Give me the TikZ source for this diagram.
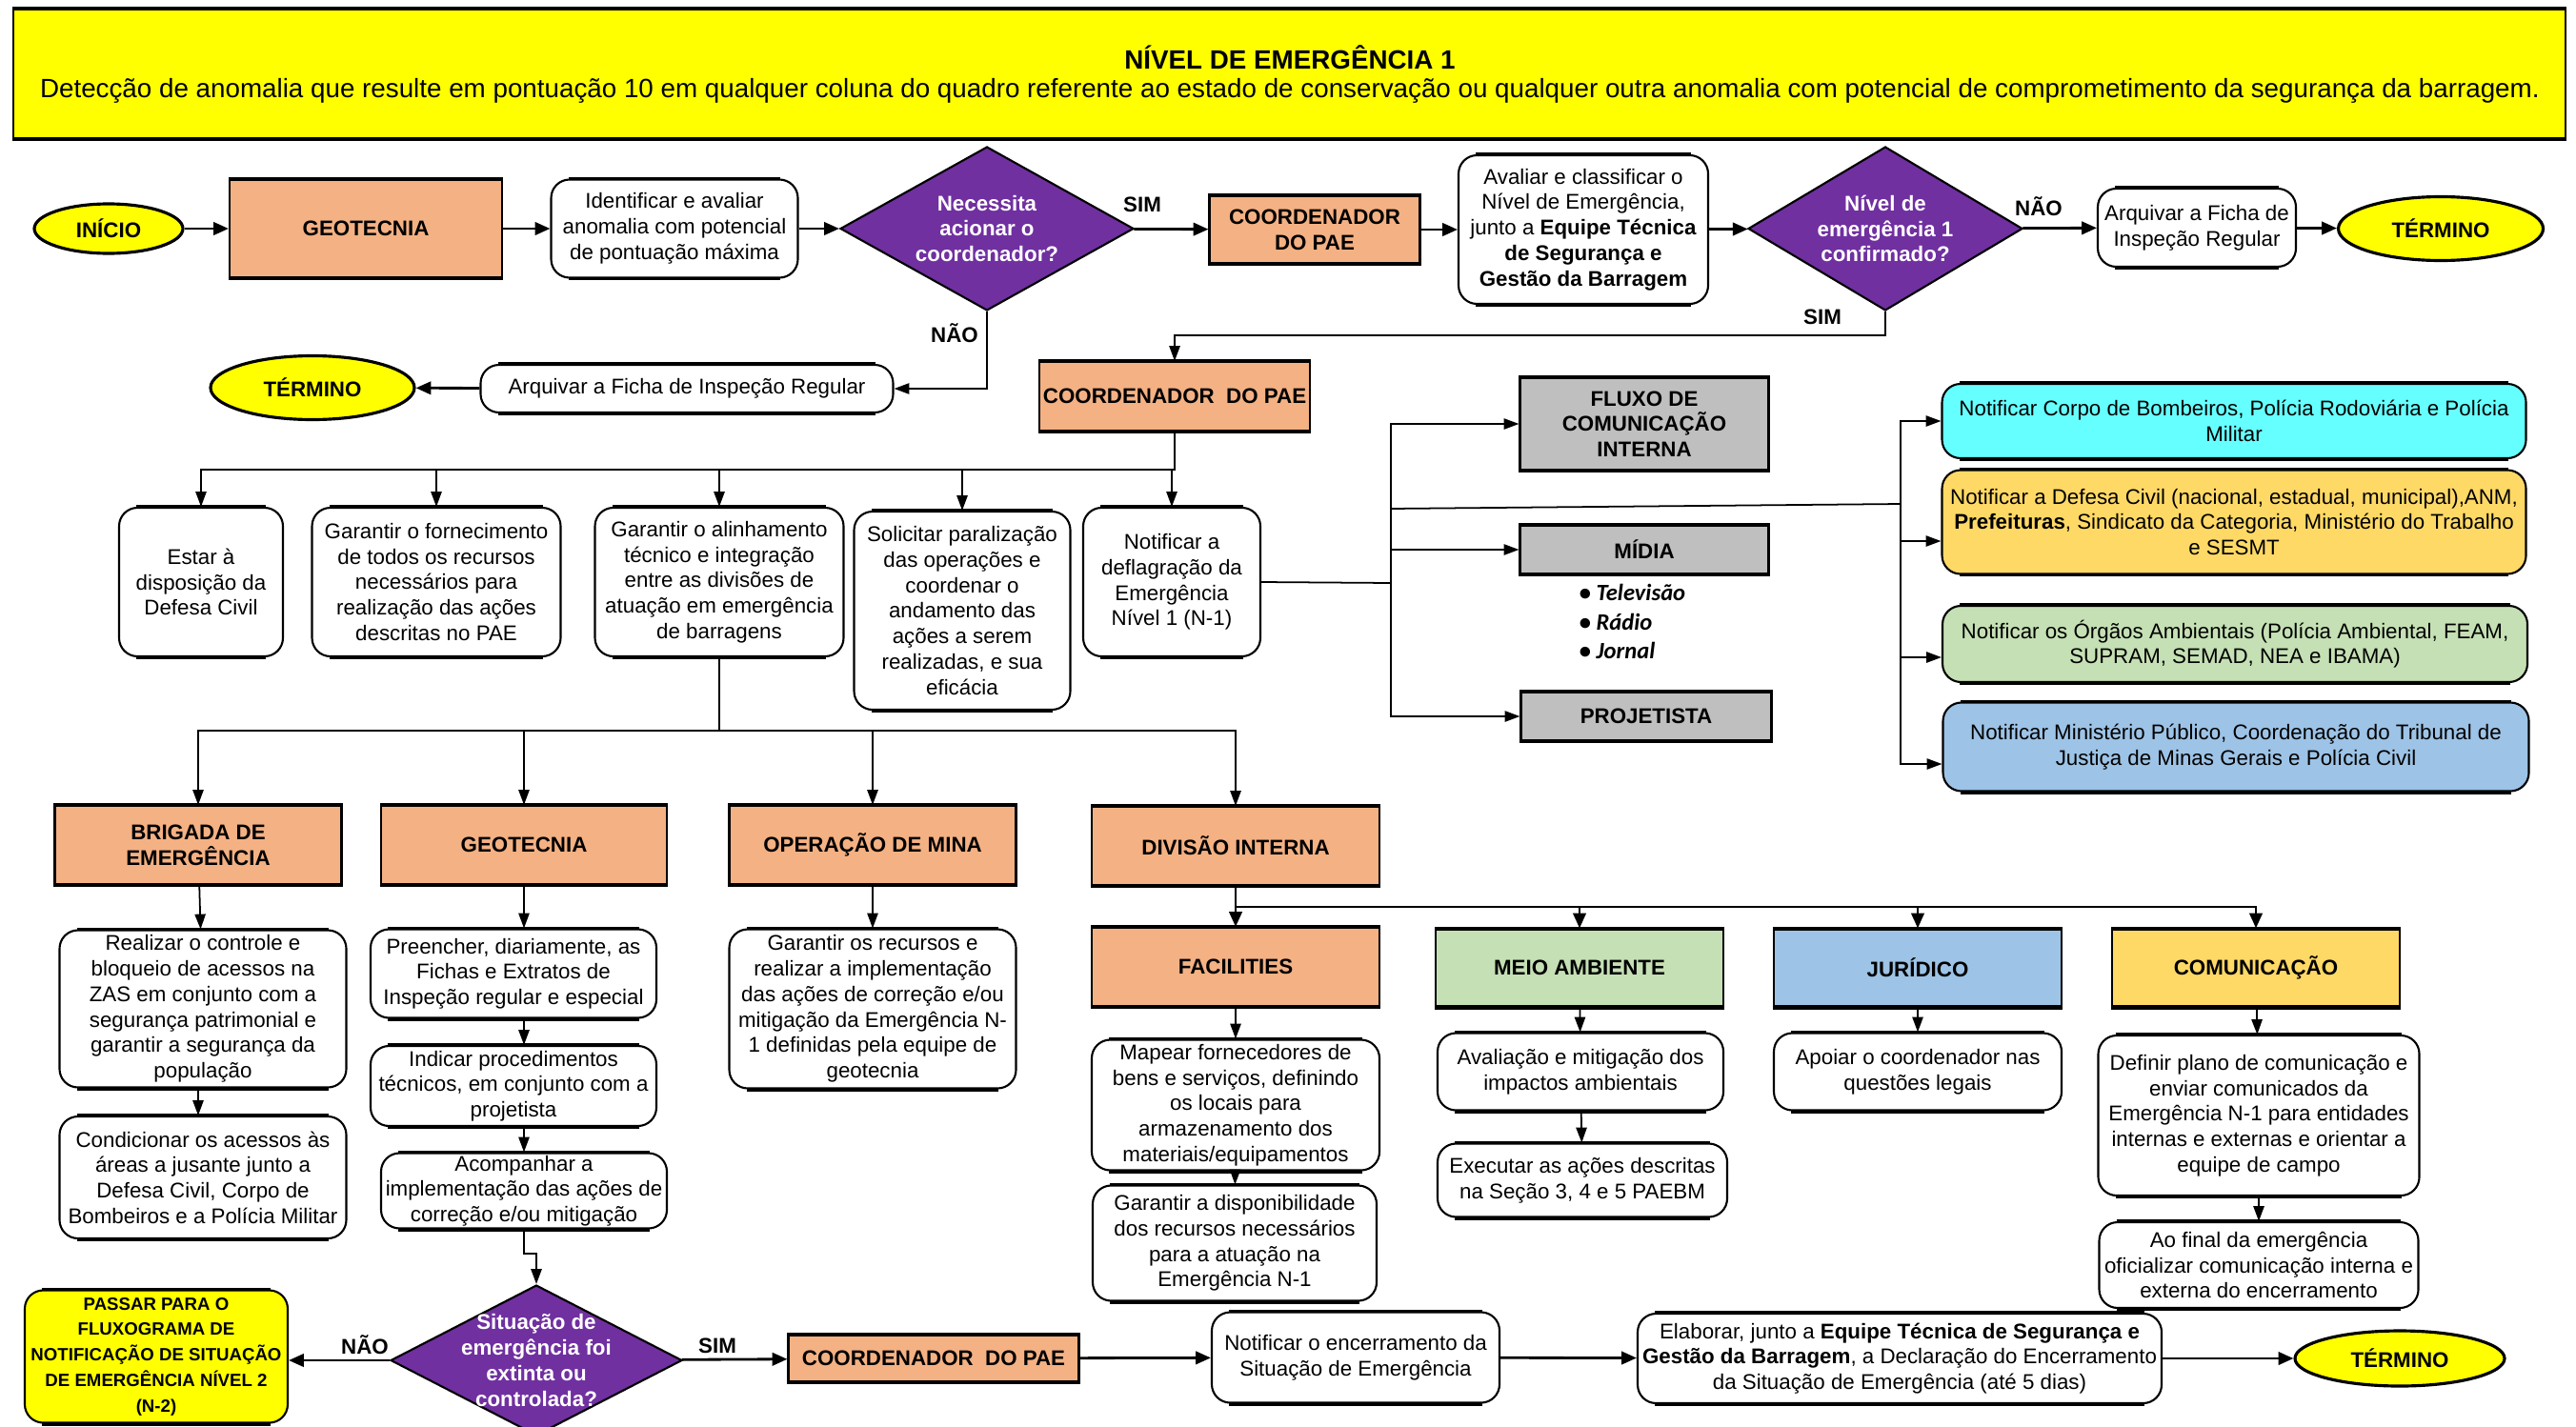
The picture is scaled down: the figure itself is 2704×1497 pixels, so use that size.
\documentclass[tikz,border=0pt]{standalone}
\usepackage{fontspec}
\setmainfont{Liberation Sans}
\newfontfamily\bulletfont{Carlito}
\usetikzlibrary{shapes.geometric,arrows.meta}
\definecolor{orng}{HTML}{F4B183}
\definecolor{grayb}{HTML}{BFBFBF}
\definecolor{purp}{HTML}{7030A0}
\definecolor{yel}{HTML}{FFFF00}
\definecolor{cyanb}{HTML}{66FFFF}
\definecolor{gold}{HTML}{FFD966}
\definecolor{greenb}{HTML}{C5E0B4}
\definecolor{blueb}{HTML}{9DC3E6}
\newcommand\nf{\fontsize{6.35pt}{7.6pt}\selectfont}
\newcommand\smf{\fontsize{5.3pt}{7.6pt}\selectfont}
\newcommand\hf{\fontsize{7.9pt}{9.4pt}\selectfont}
\begin{document}
\begin{tikzpicture}[x=0.01cm,y=-0.01cm,
 every node/.style={font=\nf, align=center, inner sep=0pt},
 sz/.style 2 args={minimum width=#1*0.01cm, minimum height=#2*0.01cm},
 thk/.style={line width=1.1pt},
 tb/.style={append after command={([xshift=#1]\tikzlastnode.north west) edge[thk] ([xshift=-#1]\tikzlastnode.north east) ([xshift=#1]\tikzlastnode.south west) edge[thk] ([xshift=-#1]\tikzlastnode.south east)}},
 obox/.style={draw, line width=0.6pt, fill=orng, font=\nf\bfseries, tb=0pt},
 gbox/.style={draw, line width=0.6pt, fill=grayb, font=\nf\bfseries, tb=0pt},
 pbox/.style={draw, line width=0.6pt, fill=white, rounded corners=5.5pt, tb=5.5pt},
 cbox/.style={pbox, fill=#1},
 dec/.style={diamond, draw, line width=0.6pt, fill=purp, text=white, font=\nf\bfseries, aspect=1.8},
 term/.style={ellipse, draw, line width=0.9pt, fill=yel, font=\nf\bfseries},
 arr/.style={-{Triangle[length=4.5pt,width=3.8pt]}, line width=0.8pt},
 arrt/.style={-{Triangle[length=4.5pt,width=3.2pt]}, line width=0.5pt},
 lbl/.style={font=\nf\bfseries},
 bul/.style={font=\fontsize{7pt}{8pt}\selectfont\bulletfont\bfseries\itshape, anchor=west},
]
\useasboundingbox (0,0) rectangle (2704,1497);
% header
\node[draw, fill=yel, sz={2679}{135}, line width=0.6pt, tb=0pt] (hdr) at (1353.5,77.5) {};
\node[font=\hf\bfseries] (title) at (1354,60) {NÍVEL DE EMERGÊNCIA 1};
\node[font=\hf] (sub) at (1354,95) {Detecção de anomalia que resulte em pontuação 10 em qualquer coluna do quadro referente ao estado de conservação ou qualquer outra anomalia com potencial de comprometimento da segurança da barragem.};
% row 1
\node[term, sz={156}{52}] (ini) at (114,240) {INÍCIO};
\node[obox, sz={286}{103}] (geo1) at (384,240) {GEOTECNIA};
\node[pbox, sz={259}{103}] (ident) at (708,240) {Identificar e avaliar\\anomalia com potencial\\de pontuação máxima};
\node[dec, sz={308}{172}] (d1) at (1036,240) {Necessita\\acionar o\\coordenador?};
\node[obox, sz={221}{70}] (coord1) at (1380,241) {COORDENADOR\\DO PAE};
\node[pbox, sz={262}{156}] (aval) at (1662,241) {Avaliar e classificar o\\Nível de Emergência,\\junto a \textbf{Equipe Técnica}\\\textbf{de Segurança e}\\\textbf{Gestão da Barragem}};
\node[dec, sz={288}{172}] (d2) at (1979,240) {Nível de\\emergência 1\\confirmado?};
\node[pbox, sz={208}{82}] (arq2) at (2306,239) {Arquivar a Ficha de\\Inspeção Regular};
\node[term, sz={215}{67}] (term2) at (2562,240) {TÉRMINO};
\node[pbox, sz={433}{50}] (arq1) at (721,408) {Arquivar a Ficha de Inspeção Regular};
\node[term, sz={214}{67}] (term1) at (328,407) {TÉRMINO};
\node[obox, sz={284}{72}] (coord2) at (1233,416) {COORDENADOR\ \ DO PAE};
\node[lbl] (lsim1) at (1199,215) {SIM};
\node[lbl] (lnao1) at (1002,350) {NÃO};
\node[lbl] (lnao2) at (2140,217) {NÃO};
\node[lbl] (lsim2) at (1913,333) {SIM};
\draw[arr] (ini) -- (geo1);
\draw[arr] (geo1) -- (ident);
\draw[arr] (ident) -- (d1);
\draw[arr] (d1) -- (coord1);
\draw[arr] (coord1) -- (aval);
\draw[arr] (aval) -- (d2);
\draw[arr] (d2) -- (arq2);
\draw[arr] (arq2) -- (term2);
\draw[arr] (arq1) -- (term1);
\coordinate (j2) at (1979,352);
\draw[arrt] (d2.south) -- (j2) -| (coord2.north);
\draw[arrt] (d1.south) |- (arq1.east);
% row 2
\node[pbox, sz={172}{156}] (estar) at (211,611) {Estar à\\disposição da\\Defesa Civil};
\node[pbox, sz={261}{156}] (forn) at (458,611) {Garantir o fornecimento\\de todos os recursos\\necessários para\\realização das ações\\descritas no PAE};
\node[pbox, sz={261}{156}] (alin) at (755,611) {Garantir o alinhamento\\técnico e integração\\entre as divisões de\\atuação em emergência\\de barragens};
\node[pbox, sz={227}{208}] (solic) at (1010,641) {Solicitar paralização\\das operações e\\coordenar o\\andamento das\\ações a serem\\realizadas, e sua\\eficácia};
\node[pbox, sz={186}{156}] (notif) at (1230,611) {Notificar a\\deflagração da\\Emergência\\Nível 1 (N-1)};
\coordinate (bus1) at (1233,493);
\foreach \n in {estar,forn,alin,solic,notif}{\draw[arrt] (coord2.south) -- (bus1) -| (\n.north);}
% communication
\node[gbox, sz={261}{97}] (fluxo) at (1726,445) {FLUXO DE\\COMUNICAÇÃO\\INTERNA};
\node[gbox, sz={261}{51}] (midia) at (1726,577) {MÍDIA};
\node[gbox, sz={263}{50}] (proj) at (1728,752) {PROJETISTA};
\node[bul] (tv) at (1657,622) {• Televisão};
\node[bul] (radio) at (1657,653) {• Rádio};
\node[bul] (jornal) at (1657,683) {• Jornal};
\coordinate (bus2) at (1460,612);
\draw[arrt] (notif.east) -- (bus2) |- (fluxo.west);
\draw[arrt] (bus2) |- (midia.west);
\draw[arrt] (bus2) |- (proj.west);
\node[cbox=cyanb, sz={613}{78}] (cy) at (2345,442) {Notificar Corpo de Bombeiros, Polícia Rodoviária e Polícia\\Militar};
\node[cbox=gold, sz={613}{109}] (ye) at (2345,548) {Notificar a Defesa Civil (nacional, estadual, municipal),ANM,\\\textbf{Prefeituras}, Sindicato da Categoria, Ministério do Trabalho\\e SESMT};
\node[cbox=greenb, sz={614}{80}] (gr) at (2346,676) {Notificar os Órgãos Ambientais (Polícia Ambiental, FEAM,\\SUPRAM, SEMAD, NEA e IBAMA)};
\node[cbox=blueb, sz={615}{93}] (bl) at (2347,784) {Notificar Ministério Público, Coordenação do Tribunal de\\Justiça de Minas Gerais e Polícia Civil};
\coordinate (s1) at (1460,534);
\coordinate (s2) at (1995,529);
\draw[line width=0.5pt] (s1) -- (s2);
\draw[arrt] (s2) |- (cy.west);
\draw[arrt] (s2) |- ([yshift=-0.2cm]ye.west);
\draw[arrt] (s2) |- ([yshift=-0.14cm]gr.west);
\draw[arrt] (s2) |- ([yshift=-0.18cm]bl.west);
% row 3
\node[obox, sz={301}{82}] (brig) at (208,887) {BRIGADA DE\\EMERGÊNCIA};
\node[obox, sz={300}{82}] (geo2) at (550,887) {GEOTECNIA};
\node[obox, sz={301}{82}] (oper) at (916,887) {OPERAÇÃO DE MINA};
\node[obox, sz={302}{82}] (div) at (1297,888) {DIVISÃO INTERNA};
\coordinate (bus4) at (755,767);
\foreach \n in {brig,geo2,oper,div}{\draw[arrt] (alin.south) -- (bus4) -| (\n.north);}
\node[pbox, sz={301}{165}] (real) at (213,1059) {Realizar o controle e\\bloqueio de acessos na\\ZAS em conjunto com a\\segurança patrimonial e\\garantir a segurança da\\população};
\node[pbox, sz={301}{128}] (cond) at (213,1236) {Condicionar os acessos às\\áreas a jusante junto a\\Defesa Civil, Corpo de\\Bombeiros e a Polícia Militar};
\node[pbox, sz={300}{93}] (pre) at (539,1022) {Preencher, diariamente, as\\Fichas e Extratos de\\Inspeção regular e especial};
\node[pbox, sz={300}{84}] (ind) at (539,1140) {Indicar procedimentos\\técnicos, em conjunto com a\\projetista};
\node[pbox, sz={300}{79}] (acomp) at (550,1250) {Acompanhar a\\implementação das ações de\\correção e/ou mitigação};
\node[pbox, sz={301}{167}] (garrec) at (916,1059) {Garantir os recursos e\\realizar a implementação\\das ações de correção e/ou\\mitigação da Emergência N-\\1 definidas pela equipe de\\geotecnia};
\draw[arrt] (brig) -- (real);
\draw[arrt] (real.south -| brig.south) -- (cond.north -| brig.south);
\draw[arrt] (geo2.south) -- (pre.north -| geo2.south);
\draw[arrt] (pre.south -| geo2.south) -- (ind.north -| geo2.south);
\draw[arrt] (ind.south -| geo2.south) -- (acomp.north);
\draw[arrt] (oper) -- (garrec);
% division
\node[obox, sz={302}{82}] (fac) at (1297,1015) {FACILITIES};
\node[obox, fill=greenb, sz={302}{81}] (meio) at (1658,1016) {MEIO AMBIENTE};
\node[obox, fill=blueb, sz={302}{81}] (jur) at (2013,1016) {JURÍDICO};
\node[obox, fill=gold, sz={302}{81}] (com) at (2368,1016) {COMUNICAÇÃO};
\coordinate (bus5) at (1297,952);
\foreach \n in {fac,meio,jur,com}{\draw[arr] (div.south) -- (bus5) -| (\n.north);}
\node[pbox, sz={302}{137}] (mapear) at (1297,1160) {Mapear fornecedores de\\bens e serviços, definindo\\os locais para\\armazenamento dos\\materiais/equipamentos};
\node[pbox, sz={298}{121}] (gardisp) at (1296,1305) {Garantir a disponibilidade\\dos recursos necessários\\para a atuação na\\Emergência N-1};
\node[pbox, sz={300}{81}] (avalm) at (1659,1125) {Avaliação e mitigação dos\\impactos ambientais};
\node[pbox, sz={304}{77}] (exec) at (1661,1239) {Executar as ações descritas\\na Seção 3, 4 e 5 PAEBM};
\node[pbox, sz={302}{81}] (apoiar) at (2013,1125) {Apoiar o coordenador nas\\questões legais};
\node[pbox, sz={337}{168}] (defin) at (2371,1171) {Definir plano de comunicação e\\enviar comunicados da\\Emergência N-1 para entidades\\internas e externas e orientar a\\equipe de campo};
\node[pbox, sz={335}{90}] (aofinal) at (2371,1328) {Ao final da emergência\\oficializar comunicação interna e\\externa do encerramento};
\draw[arrt] (fac) -- (mapear);
\draw[arrt] (mapear) -- (gardisp);
\draw[arrt] (meio) -- (avalm);
\draw[arrt] (avalm) -- (exec);
\draw[arrt] (jur) -- (apoiar);
\draw[arrt] (com) -- (defin);
\draw[arrt] (defin) -- (aofinal);
% bottom row
\node[cbox=yel, sz={276}{139}, font=\smf\bfseries] (passar) at (164,1424) {PASSAR PARA O\\FLUXOGRAMA DE\\NOTIFICAÇÃO DE SITUAÇÃO\\DE EMERGÊNCIA NÍVEL 2\\(N-2)};
\node[dec, sz={306}{158}, label={[font=\nf\bfseries, text=white, align=center]center:Situação de\\emergência foi\\extinta ou\\controlada?}] (d3) at (563,1428) {};
\node[obox, sz={305}{48}] (coord3) at (980,1426) {COORDENADOR\ \ DO PAE};
\node[pbox, sz={302}{95}] (notenc) at (1423,1425) {Notificar o encerramento da\\Situação de Emergência};
\node[pbox, sz={550}{94}] (elab) at (1994,1426) {Elaborar, junto a \textbf{Equipe Técnica de Segurança e}\\\textbf{Gestão da Barragem}, a Declaração do Encerramento\\da Situação de Emergência (até 5 dias)};
\node[term, sz={220}{58}] (term3) at (2519,1426) {TÉRMINO};
\node[lbl] (lnao3) at (383,1412) {NÃO};
\node[lbl] (lsim3) at (753,1413) {SIM};
\coordinate (j1) at (550,1316);
\draw[arrt] (acomp.south) -- (j1) -| (d3.north);
\draw[arr] (d3.west) -- (d3.west -| passar.east);
\draw[arr] (d3) -- (coord3);
\draw[arr] (coord3) -- (notenc);
\draw[arr] (notenc) -- (elab);
\draw[arr] (elab) -- (term3);
\end{tikzpicture}
\end{document}
